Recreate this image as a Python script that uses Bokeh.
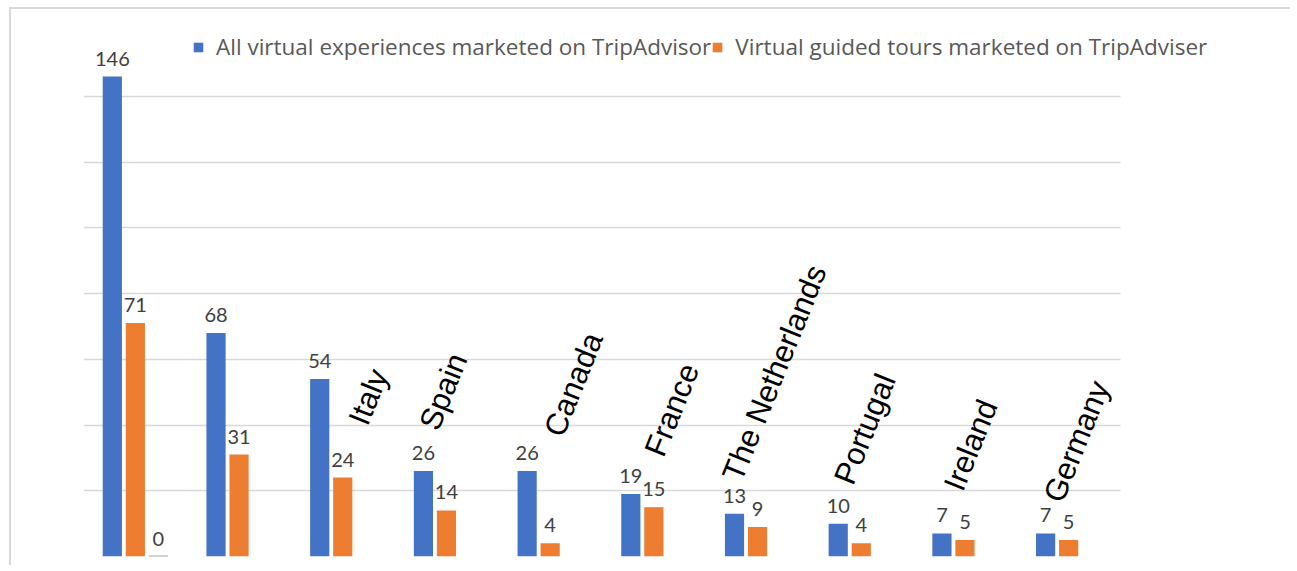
import math
from bokeh.plotting import figure
from bokeh.models import (ColumnDataSource, Range1d, FixedTicker,
                          Legend, LegendItem, BoxAnnotation)
from bokeh.transform import dodge
from bokeh.core.properties import value
from bokeh.embed import file_html
from bokeh.resources import INLINE

# ---- data ----
countries = ["United States", "United Kingdom", "Italy", "Spain", "Canada",
             "France", "The Netherlands", "Portugal", "Ireland", "Germany"]
country_labels = ["", "", "Italy", "Spain", "Canada", "France",
                  "The Netherlands", "Portugal", "Ireland", "Germany"]
all_virtual = [146, 68, 54, 26, 26, 19, 13, 10, 7, 7]
guided_tours = [71, 31, 24, 14, 4, 15, 9, 4, 5, 5]
third_series_country = ["United States"]
third_series = [0]
y_ticks = [0, 20, 40, 60, 80, 100, 120, 140, 160]

series_names = ["All virtual experiences marketed on TripAdvisor",
                "Virtual guided tours marketed on TripAdviser"]

# ---- layout of the rotated country labels ----
label_anchor_value = [0, 0, 40.5, 39.0, 37.0, 31.0, 23.5, 22.5, 20.5, 17.0]
label_dx_px = [0, 0, 15, -18, 3, 0, -26, -18, -12, -16]

BLUE = "#4472c4"
ORANGE = "#ed7d31"
GRAY = "#a5a5a5"
LINE = "#d9d9d9"

idx = list(range(len(countries)))
src = ColumnDataSource(dict(
    pos=idx, country=countries, label=country_labels, allv=all_virtual,
    guided=guided_tours,
    allv_txt=[str(v) for v in all_virtual],
    guided_txt=[str(v) for v in guided_tours],
    lab_y=label_anchor_value, lab_dx=label_dx_px,
))
src3 = ColumnDataSource(dict(pos=[countries.index(c) for c in third_series_country],
                             val=third_series,
                             txt=[str(v) for v in third_series]))

W, H = 1290, 565
PLOT_L, PLOT_R, FRAME_R = 83, 1120, 1260   # gridlines end at PLOT_R
cat_w = (PLOT_R - PLOT_L) / len(countries)
p = figure(width=W, height=H,
           x_range=Range1d(-0.5, -0.5 + (FRAME_R - PLOT_L) / cat_w),
           y_range=Range1d(0, 160),
           output_backend="svg", toolbar_location=None,
           min_border_left=PLOT_L, min_border_right=W - FRAME_R,
           min_border_top=30, min_border_bottom=H - 556)

p.xaxis.visible = False
p.yaxis.visible = False
p.xgrid.visible = False
p.ygrid.ticker = FixedTicker(ticks=y_ticks)
p.ygrid.grid_line_color = LINE
p.ygrid.grid_line_width = 1.5
p.outline_line_color = None
p.border_fill_alpha = 0
p.background_fill_color = "white"
p.styles = {
    "background": (f"linear-gradient({LINE},{LINE}) 9px 7px / 100% 2px no-repeat, "
                   f"linear-gradient({LINE},{LINE}) 9px 7px / 2px 100% no-repeat, white"),
}
# plot area ends at PLOT_R: blank the grid beyond it (legend may overhang).
# screen units of the box are measured from the frame's left edge
p.add_layout(BoxAnnotation(left=PLOT_R - PLOT_L, left_units="screen",
                           fill_color="white", fill_alpha=1, line_color=None,
                           level="underlay"))

off = 0.222
bw = 0.185
r1 = p.vbar(x=dodge("pos", -off), top="allv", width=bw,
            source=src, fill_color=BLUE, line_color=None)
r2 = p.vbar(x=dodge("pos", 0), top="guided", width=bw,
            source=src, fill_color=ORANGE, line_color=None)
p.vbar(x=dodge("pos", off), top="val", width=bw,
       source=src3, fill_color=GRAY, line_color=GRAY, line_width=2)

lab_kw = dict(text_font=value("Lato"), text_font_size="20px",
              text_color="#404040", text_align="center",
              text_baseline="alphabetic", y_offset=-18)
p.text(x=dodge("pos", -off), y="allv", text="allv_txt", source=src, **lab_kw)
p.text(x=dodge("pos", 0), y="guided", text="guided_txt", source=src, **lab_kw)
p.text(x=dodge("pos", off), y="val", text="txt", source=src3, **lab_kw)

p.text(x="pos", y="lab_y", text="label", x_offset="lab_dx",
       source=src, angle=math.radians(68), text_align="left",
       text_baseline="alphabetic", text_font=value("Liberation Sans"),
       text_font_size="31px", text_color="black")

legend = Legend(items=[LegendItem(label=series_names[0], renderers=[r1]),
                       LegendItem(label=series_names[1], renderers=[r2])],
                orientation="horizontal", location=(109, 494),
                spacing=0, padding=0, margin=0,
                glyph_width=12, glyph_height=12, label_standoff=12,
                border_line_alpha=0, background_fill_alpha=0,
                label_text_font="Open Sans", label_text_font_size="22.5px",
                label_text_color="#595959")
p.add_layout(legend)

open("out.html", "w").write(file_html(p, INLINE))
